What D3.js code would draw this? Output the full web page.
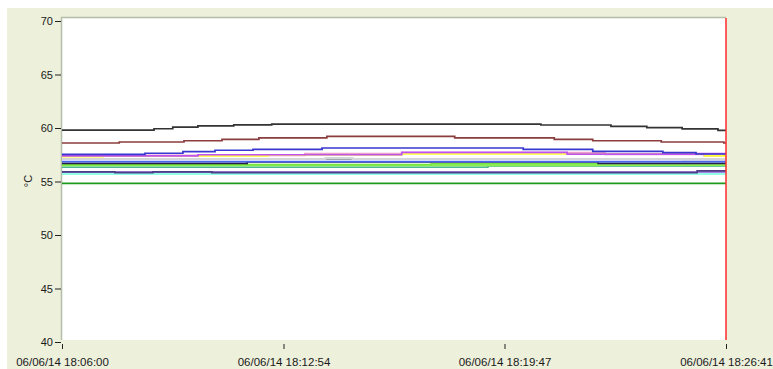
<!DOCTYPE html>
<html><head><meta charset="utf-8">
<script src="https://cdn.jsdelivr.net/npm/d3@7"></script>
<style>
html,body{margin:0;padding:0;background:#fff;}
svg{display:block;font-family:"Liberation Sans",Arial,sans-serif;}
</style></head>
<body><svg id="c" width="773" height="369"></svg>
<script>
// ---- data ----
const tickSeconds = [0, 414, 827, 1241];
const tickLabels = ["06/06/14 18:06:00", "06/06/14 18:12:54", "06/06/14 18:19:47", "06/06/14 18:26:41"];
const yTicks = [40, 45, 50, 55, 60, 65, 70];
const yLabel = "°C";
const cursorSecond = 1241;
const endSecond = 1241;

// step change points: seconds since 18:06:00 and temperature values
const greenT = [0];            const greenV = [54.83];
const cyanT = [0];             const cyanV = [55.7];
const purpleT = [0];           const purpleV = [55.89];
const darkPurpleT = [0, 99, 170, 280, 1187]; const darkPurpleV = [55.9, 55.83, 55.9, 55.83, 56.0];
const tealT = [0, 796];        const tealV = [56.33, 56.45];
const green2T = [0];           const green2V = [56.5];
const limeT = [0, 690];        const limeV = [56.59, 56.66];
const lime2T = [0, 1002];      const lime2V = [56.5, 56.52];
const darkT = [0, 346, 1002];  const darkV = [56.7, 56.83, 56.7];
const royalT = [0];            const royalV = [56.85];
const grayT = [0, 1159];       const grayV = [57.08, 57.06];
const lightGrayT = [0, 492, 543]; const lightGrayV = [57.1, 57.2, 57.1];
const pinkT = [0, 454, 635, 1015, 1200]; const pinkV = [57.45, 57.6, 57.7, 57.54, 57.42];
const yellowT = [0, 77, 385, 635, 1201]; const yellowV = [57.32, 57.4, 57.48, 57.57, 57.4];
const magentaT = [0, 254, 635, 944, 1185]; const magentaV = [57.4, 57.5, 57.72, 57.55, 57.6];
const blueT = [0, 155, 226, 286, 357, 486, 862, 992, 1123, 1185];
const blueV = [57.54, 57.64, 57.79, 57.92, 58.01, 58.13, 58.01, 57.82, 57.69, 57.57];
const brownT = [0, 107, 228, 299, 368, 495, 734, 920, 992, 1120, 1237];
const brownV = [58.6, 58.69, 58.81, 58.94, 59.07, 59.22, 59.07, 58.94, 58.81, 58.69, 58.6];
const blackT = [0, 172, 207, 254, 321, 392, 895, 1026, 1093, 1159, 1226];
const blackV = [59.8, 59.93, 60.08, 60.2, 60.3, 60.37, 60.28, 60.16, 60.03, 59.91, 59.78];

// ---- styles ----
const series = [
  {t: greenT, v: greenV, color: "#1e9a1e"},
  {t: cyanT, v: cyanV, color: "#6fffe0"},
  {t: purpleT, v: purpleV, color: "#8a5ad6"},
  {t: darkPurpleT, v: darkPurpleV, color: "#4d3f86"},
  {t: tealT, v: tealV, color: "#4cb894"},
  {t: green2T, v: green2V, color: "#5ccc5c"},
  {t: lime2T, v: lime2V, color: "#8cf050"},
  {t: limeT, v: limeV, color: "#74e63a"},
  {t: darkT, v: darkV, color: "#26204e"},
  {t: royalT, v: royalV, color: "#4a66ee"},
  {t: grayT, v: grayV, color: "#a2a6ae"},
  {t: lightGrayT, v: lightGrayV, color: "#d4d6da"},
  {t: pinkT, v: pinkV, color: "#eba0cc"},
  {t: yellowT, v: yellowV, color: "#ffff30"},
  {t: magentaT, v: magentaV, color: "#c052f0"},
  {t: blueT, v: blueV, color: "#3838d0"},
  {t: brownT, v: brownV, color: "#8b3c3c"},
  {t: blackT, v: blackV, color: "#333333"}
];

const svg = d3.select("#c");
const W = 773, H = 369;
const plot = {l: 62, r: 726, t: 18, b: 340};

const x = d3.scaleLinear().domain([0, endSecond]).range([plot.l, plot.r]);
const y = d3.scaleLinear().domain([40, 70]).range([342, 21]);

// background panel
svg.append("rect").attr("x", 7).attr("y", 8).attr("width", W - 7).attr("height", H - 8).attr("fill", "#edf0da");
svg.append("rect").attr("x", plot.l).attr("y", plot.t).attr("width", plot.r - plot.l).attr("height", plot.b - plot.t).attr("fill", "#ffffff");
// plot borders (top, left)
svg.append("line").attr("x1", plot.l - 1).attr("x2", plot.r).attr("y1", plot.t - 0.5).attr("y2", plot.t - 0.5)
  .attr("stroke", "#b4bcaa").attr("stroke-width", 1.5);
svg.append("line").attr("x1", plot.l - 0.5).attr("x2", plot.l - 0.5).attr("y1", plot.t - 1).attr("y2", plot.b)
  .attr("stroke", "#b4bcaa").attr("stroke-width", 1.5);

// lines
const line = d3.line().curve(d3.curveStepAfter).x(d => x(d[0])).y(d => y(d[1]));
const g = svg.append("g");
series.forEach(s => {
  const pts = s.t.map((t, i) => [t, s.v[i]]);
  pts.push([endSecond, s.v[s.v.length - 1]]);
  g.append("path").attr("d", line(pts)).attr("fill", "none")
    .attr("stroke", s.color).attr("stroke-width", 1.7);
});

// cursor
svg.append("line").attr("x1", x(cursorSecond)).attr("x2", x(cursorSecond))
  .attr("y1", plot.t).attr("y2", plot.b).attr("stroke", "#ff2a2a").attr("stroke-width", 1.5);

// y axis
const ya = svg.append("g").attr("transform", `translate(${plot.l - 1},0)`)
  .call(d3.axisLeft(y).tickValues(yTicks).tickSize(6).tickPadding(2).tickFormat(d3.format("d")));
ya.select(".domain").remove();
ya.selectAll(".tick line").attr("stroke", "#222").attr("stroke-width", 1);
ya.selectAll("text").attr("font-size", 11).attr("fill", "#1a1a1a").attr("font-family", "Liberation Sans, Arial, sans-serif");

svg.append("text").attr("transform", `translate(32,181) rotate(-90)`).attr("text-anchor", "middle")
  .attr("font-size", 11).attr("fill", "#1a1a1a").text(yLabel);

// x axis
const xa = svg.append("g").attr("transform", `translate(0,344)`)
  .call(d3.axisBottom(x).tickValues(tickSeconds).tickSize(5).tickPadding(9).tickFormat((d, i) => tickLabels[i]));
xa.select(".domain").remove();
xa.selectAll(".tick line").attr("stroke", "#222").attr("stroke-width", 1);
xa.selectAll("text").attr("font-size", 11.5).attr("fill", "#1a1a1a").attr("font-family", "Liberation Sans, Arial, sans-serif");
</script>
</body></html>
